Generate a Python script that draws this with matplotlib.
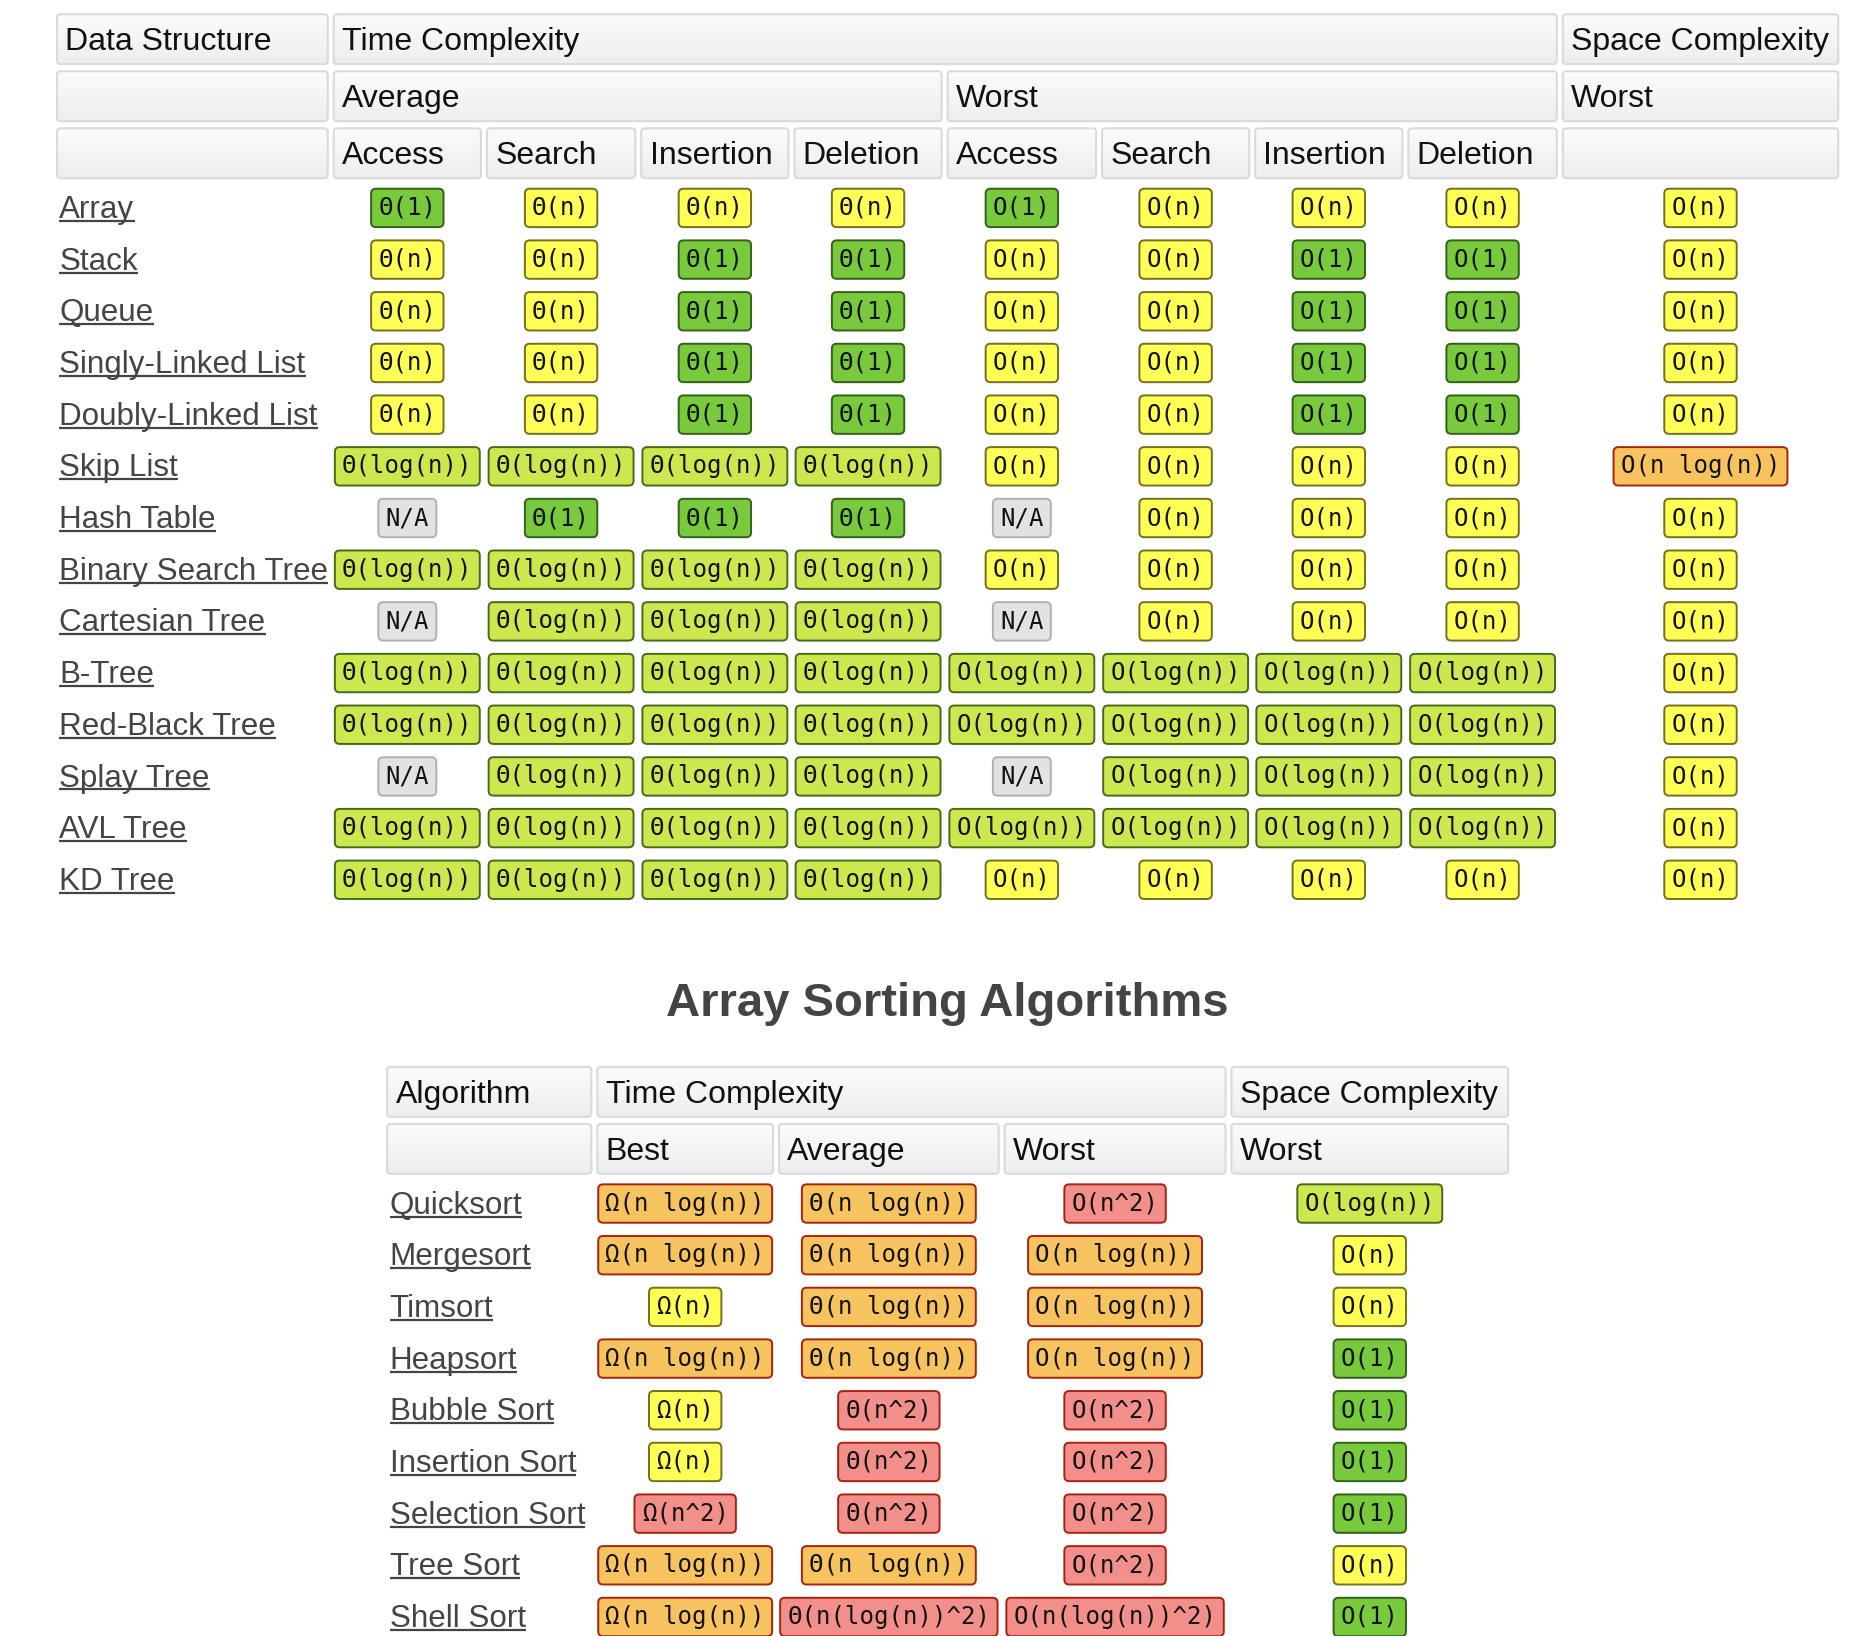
import matplotlib
matplotlib.use("Agg")
import matplotlib.pyplot as plt
import numpy as np
from matplotlib.colors import LinearSegmentedColormap
from matplotlib.patches import FancyBboxPatch

# ---- data: common data structure operations ----
DS_NAMES = [
    "Array", "Stack", "Queue", "Singly-Linked List", "Doubly-Linked List",
    "Skip List", "Hash Table", "Binary Search Tree", "Cartesian Tree",
    "B-Tree", "Red-Black Tree", "Splay Tree", "AVL Tree", "KD Tree",
]
DS_OPS = ["Access", "Search", "Insertion", "Deletion"]

DS_AVG = [
    ["Θ(1)", "Θ(n)", "Θ(n)", "Θ(n)"],
    ["Θ(n)", "Θ(n)", "Θ(1)", "Θ(1)"],
    ["Θ(n)", "Θ(n)", "Θ(1)", "Θ(1)"],
    ["Θ(n)", "Θ(n)", "Θ(1)", "Θ(1)"],
    ["Θ(n)", "Θ(n)", "Θ(1)", "Θ(1)"],
    ["Θ(log(n))", "Θ(log(n))", "Θ(log(n))", "Θ(log(n))"],
    ["N/A", "Θ(1)", "Θ(1)", "Θ(1)"],
    ["Θ(log(n))", "Θ(log(n))", "Θ(log(n))", "Θ(log(n))"],
    ["N/A", "Θ(log(n))", "Θ(log(n))", "Θ(log(n))"],
    ["Θ(log(n))", "Θ(log(n))", "Θ(log(n))", "Θ(log(n))"],
    ["Θ(log(n))", "Θ(log(n))", "Θ(log(n))", "Θ(log(n))"],
    ["N/A", "Θ(log(n))", "Θ(log(n))", "Θ(log(n))"],
    ["Θ(log(n))", "Θ(log(n))", "Θ(log(n))", "Θ(log(n))"],
    ["Θ(log(n))", "Θ(log(n))", "Θ(log(n))", "Θ(log(n))"],
]
DS_WORST = [
    ["O(1)", "O(n)", "O(n)", "O(n)"],
    ["O(n)", "O(n)", "O(1)", "O(1)"],
    ["O(n)", "O(n)", "O(1)", "O(1)"],
    ["O(n)", "O(n)", "O(1)", "O(1)"],
    ["O(n)", "O(n)", "O(1)", "O(1)"],
    ["O(n)", "O(n)", "O(n)", "O(n)"],
    ["N/A", "O(n)", "O(n)", "O(n)"],
    ["O(n)", "O(n)", "O(n)", "O(n)"],
    ["N/A", "O(n)", "O(n)", "O(n)"],
    ["O(log(n))", "O(log(n))", "O(log(n))", "O(log(n))"],
    ["O(log(n))", "O(log(n))", "O(log(n))", "O(log(n))"],
    ["N/A", "O(log(n))", "O(log(n))", "O(log(n))"],
    ["O(log(n))", "O(log(n))", "O(log(n))", "O(log(n))"],
    ["O(n)", "O(n)", "O(n)", "O(n)"],
]
DS_SPACE = ["O(n)", "O(n)", "O(n)", "O(n)", "O(n)", "O(n log(n))", "O(n)",
            "O(n)", "O(n)", "O(n)", "O(n)", "O(n)", "O(n)", "O(n)"]

# ---- data: array sorting algorithms ----
SORT_NAMES = ["Quicksort", "Mergesort", "Timsort", "Heapsort", "Bubble Sort",
              "Insertion Sort", "Selection Sort", "Tree Sort", "Shell Sort"]
SORT_BEST = ["Ω(n log(n))", "Ω(n log(n))", "Ω(n)", "Ω(n log(n))", "Ω(n)",
             "Ω(n)", "Ω(n^2)", "Ω(n log(n))", "Ω(n log(n))"]
SORT_AVG = ["Θ(n log(n))", "Θ(n log(n))", "Θ(n log(n))", "Θ(n log(n))", "Θ(n^2)",
            "Θ(n^2)", "Θ(n^2)", "Θ(n log(n))", "Θ(n(log(n))^2)"]
SORT_WORST = ["O(n^2)", "O(n log(n))", "O(n log(n))", "O(n log(n))", "O(n^2)",
              "O(n^2)", "O(n^2)", "O(n^2)", "O(n(log(n))^2)"]
SORT_SPACE = ["O(log(n))", "O(n)", "O(n)", "O(1)", "O(1)", "O(1)", "O(1)",
              "O(n)", "O(1)"]

# complexity class -> (fill, edge)
CLASS_COLORS = {
    "1": ("#78c93c", "#35601a"),
    "log(n)": ("#cde74f", "#466a1c"),
    "n": ("#ffff55", "#73701f"),
    "n log(n)": ("#f7c35f", "#a8230f"),
    "n^2": ("#f28f8b", "#a8230f"),
    "n(log(n))^2": ("#f28f8b", "#a8230f"),
    "N/A": ("#e2e2e2", "#b0b0b0"),
}

HEAD_FONT = "Liberation Sans"
MONO_FONT = "DejaVu Sans Mono"
LINK_COLOR = "#444444"
HEAD_CMAP = LinearSegmentedColormap.from_list("head", ["#fbfbfb", "#eeeeee"])


def badge_colors(value):
    if value == "N/A":
        return CLASS_COLORS["N/A"]
    return CLASS_COLORS[value[2:-1]]


fig = plt.figure(figsize=(18.62, 16.36), dpi=100)
ax = fig.add_axes([0, 0, 1, 1])
XMAX, YMAX = 1568, 1377
ax.axis("off")


def header_cell(x0, x1, y0, y1, label=""):
    box = FancyBboxPatch((x0, y0), x1 - x0, y1 - y0,
                         boxstyle="round,pad=0,rounding_size=3",
                         fc="none", ec="#dadada", lw=1.5, zorder=2)
    ax.add_patch(box)
    grad = np.linspace(0, 1, 32).reshape(-1, 1)
    im = ax.imshow(grad, cmap=HEAD_CMAP, extent=[x0, x1, y1, y0],
                   aspect="auto", zorder=1, interpolation="bilinear")
    im.set_clip_path(box)
    if label:
        ax.text(x0 + 7, (y0 + y1) / 2 + 9, label, fontsize=23, family=HEAD_FONT,
                color="#111111", va="baseline", ha="left", zorder=3)


def badge(x, y, value):
    fc, ec = badge_colors(value)
    ax.text(x, y, value, fontsize=17.3, family=MONO_FONT, ha="center", va="center",
            color="#111111", zorder=3,
            bbox=dict(boxstyle="round,pad=0.3,rounding_size=0.2", fc=fc, ec=ec, lw=1.4))


links = []


def row_label(x, y, name):
    t = ax.text(x, y + 8.5, name, fontsize=22.6, family=HEAD_FONT, color=LINK_COLOR,
                va="baseline", ha="left", zorder=3)
    links.append((t, y + 11))


# ---- top table ----
top_cols = [(48, 276), (281, 405), (410, 535), (540, 664), (669, 793),
            (798, 923), (928, 1052), (1057, 1181), (1186, 1311), (1316, 1548)]
top_rows = [(12, 54), (60, 102), (108, 150)]
first_row_y = 175
row_step = 43.5

header_cell(*top_cols[0], *top_rows[0], "Data Structure")
header_cell(top_cols[1][0], top_cols[8][1], *top_rows[0], "Time Complexity")
header_cell(*top_cols[9], *top_rows[0], "Space Complexity")
header_cell(*top_cols[0], *top_rows[1])
header_cell(top_cols[1][0], top_cols[4][1], *top_rows[1], "Average")
header_cell(top_cols[5][0], top_cols[8][1], *top_rows[1], "Worst")
header_cell(*top_cols[9], *top_rows[1], "Worst")
header_cell(*top_cols[0], *top_rows[2])
for k, op in enumerate(DS_OPS + DS_OPS):
    header_cell(*top_cols[k + 1], *top_rows[2], op)
header_cell(*top_cols[9], *top_rows[2])

for i, name in enumerate(DS_NAMES):
    y = first_row_y + i * row_step
    row_label(50, y, name)
    values = DS_AVG[i] + DS_WORST[i] + [DS_SPACE[i]]
    for k, v in enumerate(values):
        c0, c1 = top_cols[k + 1]
        badge((c0 + c1) / 2, y, v)

# ---- title ----
ax.text(798, 845, "Array Sorting Algorithms", fontsize=34, family=HEAD_FONT,
        fontweight="bold", color="#444444", ha="center", va="center")

# ---- bottom table ----
bot_cols = [(326, 498), (503, 651), (656, 841), (846, 1032), (1037, 1270)]
bot_rows = [(898, 940), (946, 988)]
bot_first_y = 1013

header_cell(*bot_cols[0], *bot_rows[0], "Algorithm")
header_cell(bot_cols[1][0], bot_cols[3][1], *bot_rows[0], "Time Complexity")
header_cell(*bot_cols[4], *bot_rows[0], "Space Complexity")
header_cell(*bot_cols[0], *bot_rows[1])
for k, lab in enumerate(["Best", "Average", "Worst", "Worst"]):
    header_cell(*bot_cols[k + 1], *bot_rows[1], lab)

for i, name in enumerate(SORT_NAMES):
    y = bot_first_y + i * row_step
    row_label(328, y, name)
    values = [SORT_BEST[i], SORT_AVG[i], SORT_WORST[i], SORT_SPACE[i]]
    for k, v in enumerate(values):
        c0, c1 = bot_cols[k + 1]
        badge((c0 + c1) / 2, y, v)

ax.set_xlim(0, XMAX)
ax.set_ylim(YMAX, 0)

# underline the row labels (they are links in the original)
fig.canvas.draw()
renderer = fig.canvas.get_renderer()
inv = ax.transData.inverted()
for t, uy in links:
    bb = t.get_window_extent(renderer)
    (x0, _), (x1, _) = inv.transform([(bb.x0, bb.y0), (bb.x1, bb.y1)])
    ax.plot([x0, x1], [uy, uy], color=LINK_COLOR, lw=1.6, solid_capstyle="butt",
            zorder=3)
ax.set_xlim(0, XMAX)
ax.set_ylim(YMAX, 0)

fig.savefig("out.png", dpi=100, facecolor="white")
